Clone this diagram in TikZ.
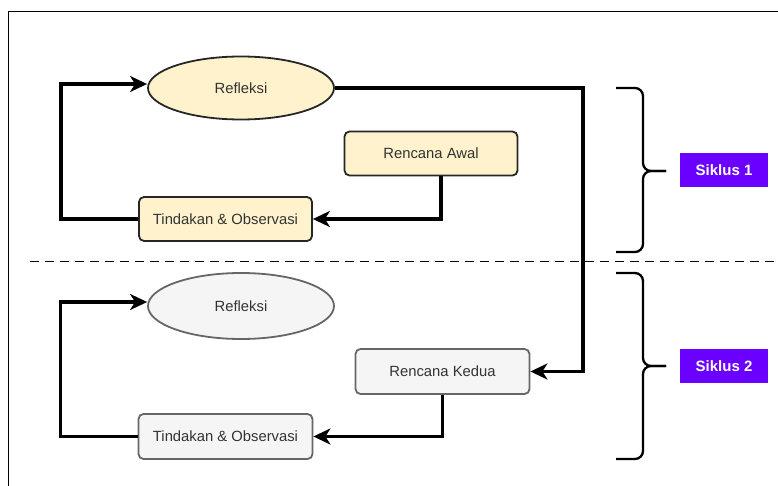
\documentclass[tikz,border=0pt]{standalone}
\usepackage{fontspec}
\setmainfont{Liberation Sans}
\usetikzlibrary{arrows.meta,shapes.geometric,calc}
\definecolor{ylfill}{HTML}{FFF2CC}
\definecolor{gyfill}{HTML}{F5F5F5}
\definecolor{gyline}{HTML}{666666}
\definecolor{txt}{HTML}{333333}
\definecolor{violet}{HTML}{6A00FF}
\tikzset{
  base/.style={font=\fontsize{14.8}{16}\selectfont, text=txt, line width=1.8pt, inner sep=0pt},
  ybox/.style={base, draw=black!85, fill=ylfill, rounded corners=5pt, minimum width=173pt, minimum height=44pt},
  gbox/.style={base, draw=gyline, fill=gyfill, rounded corners=5pt, minimum width=174pt, minimum height=45pt},
  yell/.style={base, ellipse, draw=black!85, fill=ylfill, minimum width=186pt, minimum height=63pt},
  gell/.style={base, ellipse, draw=gyline, fill=gyfill, minimum width=186pt, minimum height=66pt},
  conn/.style={line width=3.5pt, -{Stealth[length=17pt,width=16pt,inset=5pt]}, line join=miter},
  brace/.style={line width=2.3pt, rounded corners=8pt},
  tag/.style={fill=violet, text=white, font=\fontsize{15}{17}\selectfont\bfseries, minimum width=88pt, minimum height=34pt, inner sep=0pt}
}
\begin{document}
\begin{tikzpicture}[x=1pt,y=-1pt]
\useasboundingbox (0,0) rectangle (778,486);
% frame
\draw[line width=1pt] (8,486) -- (8,12) -- (778,12);
% dashed separator
\draw[line width=1pt, dash pattern=on 9pt off 6pt] (30,261) -- (778,261);
% cycle 1
\node[yell] (r1) at (241,88) {Refleksi};
\node[ybox] (a1) at (431,153.5) {Rencana Awal};
\node[ybox] (t1) at (225.5,219) {Tindakan \& Observasi};
% cycle 2
\node[gell] (r2) at (241,306) {Refleksi};
\node[gbox] (k2) at (442.5,371.5) {Rencana Kedua};
\node[gbox] (t2) at (225.5,436.5) {Tindakan \& Observasi};
% connectors
\draw[conn] ($(a1.south)+(10,0)$) |- (t1.east);
\draw[conn] (t1.west) -- ++(-77,0) |- ($(r1.west)+(0,-4)$);
\draw[conn] (r1.east) -- ++(248,0) |- (k2.east);
\draw[conn] (k2.south) |- (t2.east);
\draw[conn] (t2.west) -- ++(-77,0) |- ($(r2.west)+(0,-4)$);
% braces
\draw[brace] (616,88) -- (643,88) -- (643,171) -- (666,171);
\draw[brace] (616,252) -- (643,252) -- (643,171) -- (666,171);
\draw[brace] (616,273) -- (643,273) -- (643,366) -- (666,366);
\draw[brace] (616,459) -- (643,459) -- (643,366) -- (666,366);
% labels
\node[tag] (s1) at (724,170) {Siklus 1};
\node[tag] (s2) at (724,366) {Siklus 2};
\end{tikzpicture}
\end{document}
